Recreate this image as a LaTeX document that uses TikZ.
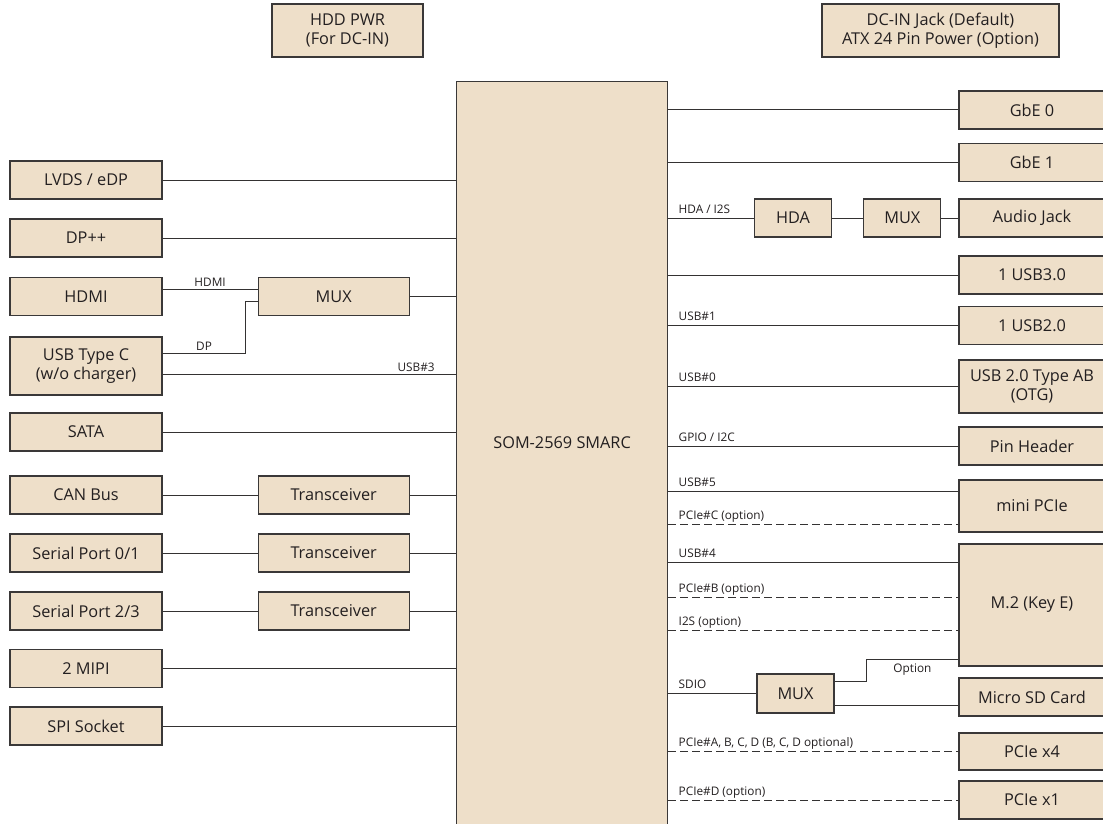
\documentclass[tikz,border=0pt]{standalone}
\usepackage{fontspec}
\setmainfont{Open Sans}
\usepackage{xcolor}
\definecolor{boxFill}{RGB}{238,223,201}
\definecolor{boxDraw}{RGB}{58,56,56}
\colorlet{colorLine}{boxDraw!90!black}
\definecolor{colorText}{RGB}{35,31,32}
\usetikzlibrary{positioning}
\tikzset{
  blk/.style={draw=boxDraw, line width=1.2pt, fill=boxFill, text=colorText, font=\fontsize{16.3}{18.5}\selectfont, align=center, inner sep=0pt, minimum height=38pt},
  lft/.style={blk, minimum width=152pt},
  rgt/.style={blk, minimum width=146pt},
  mid/.style={blk, minimum width=151pt},
  sml/.style={blk, minimum width=77pt},
  bus/.style={draw=colorLine, line width=1pt},
  opt/.style={bus, dash pattern=on 8pt off 4pt},
  lbl/.style={font=\fontsize{11.8}{13}\selectfont, text=colorText, inner sep=0pt},
  rlbl/.style={lbl, at start, anchor=base west, xshift=10pt, yshift=5pt},
}

\begin{document}
\begin{tikzpicture}[x=1pt, y=-1pt]
\useasboundingbox (0,0) rectangle (1103,824);
\fill[white] (0,0) rectangle (1103,824);
\node[blk, minimum width=211pt, minimum height=760pt, anchor=north west, label={[font=\fontsize{16.3}{18.5}\selectfont, text=colorText, yshift=19pt]center:SOM-2569 SMARC}] (som) at (456,81) {};
\node[mid, minimum height=53pt] (hddpwr) at (347.5,30.5) {HDD PWR\\(For DC-IN)};
\node[blk, minimum width=237pt, minimum height=53pt] (dcin) at (940.5,30.5) {DC-IN Jack (Default)\\ATX 24 Pin Power (Option)};
\node[lft] (lvds) at (86,180) {LVDS / eDP};
\node[lft] (dp) at (86,238) {DP++};
\node[lft] (hdmi) at (86,296.5) {HDMI};
\node[mid, right=95pt of hdmi] (mux1) {MUX};
\node[lft, minimum height=58pt] (usbc) at (86,366) {USB Type C\\(w/o charger)};
\node[lft] (sata) at (86,432) {SATA};
\node[lft] (can) at (86,495) {CAN Bus};
\node[mid, right=95pt of can] (trcan) {Transceiver};
\node[lft] (ser01) at (86,553) {Serial Port 0/1};
\node[mid, right=95pt of ser01] (trser01) {Transceiver};
\node[lft] (ser23) at (86,611) {Serial Port 2/3};
\node[mid, right=95pt of ser23] (trser23) {Transceiver};
\node[lft] (mipi) at (86,668.5) {2 MIPI};
\node[lft] (spi) at (86,726) {SPI Socket};
\node[rgt] (gbe0) at (1032,110) {GbE 0};
\node[rgt] (gbe1) at (1032,162.5) {GbE 1};
\node[rgt] (audio) at (1032,218) {Audio Jack};
\node[sml, left=17pt of audio] (mux2) {MUX};
\node[sml, left=31pt of mux2] (hda) {HDA};
\node[rgt] (usb3) at (1032,275) {1 USB3.0};
\node[rgt] (usb2) at (1032,325.5) {1 USB2.0};
\node[rgt, minimum height=53pt] (otg) at (1032,386.5) {USB 2.0 Type AB\\(OTG)};
\node[rgt] (pinh) at (1032,446) {Pin Header};
\node[rgt, minimum height=52pt] (minipcie) at (1032,506) {mini PCIe};
\node[rgt, minimum height=122pt] (m2) at (1032,605) {M.2 (Key E)};
\node[rgt] (sd) at (1032,697) {Micro SD Card};
\node[sml, minimum height=39pt] (sdmux) at (795.5,693.5) {MUX};
\node[rgt, minimum height=37pt] (pcie4) at (1032,751.5) {PCIe x4};
\node[rgt] (pcie1) at (1032,800) {PCIe x1};
\coordinate (hdmiy) at ([yshift=7.5pt]hdmi.east);
\coordinate (dpy) at ([yshift=13pt]usbc.east);
\coordinate (muxdp) at ([yshift=-4.5pt]mux1.west);
\coordinate (u3y) at ([yshift=-8pt]usbc.east);
\coordinate (u5y) at ([yshift=15pt]minipcie.west);
\coordinate (pcycy) at ([yshift=-18pt]minipcie.west);
\coordinate (u4y) at ([yshift=43pt]m2.west);
\coordinate (pcby) at ([yshift=8pt]m2.west);
\coordinate (i2sy) at ([yshift=-25pt]m2.west);
\coordinate (m2opt) at ([yshift=-54pt]m2.west);
\coordinate (sdmuxo) at ([yshift=12.5pt]sdmux.east);
\coordinate (sdin) at ([yshift=-8pt]sd.west);
\draw[bus] (lvds.east) -- (lvds.east -| som.west);
\draw[bus] (dp.east) -- (dp.east -| som.west);
\draw[bus] (hdmiy) -- (hdmiy -| mux1.west) node[lbl, midway, anchor=base, yshift=3pt]{HDMI};
\draw[bus] (dpy) -| node[lbl, pos=0.25, anchor=base, yshift=3pt]{DP} ([xshift=-12pt]muxdp) -- (muxdp);
\draw[bus] (mux1.east) -- (mux1.east -| som.west);
\draw[bus] (u3y) -- (u3y -| som.west) node[lbl, pos=0.864, anchor=base, yshift=3pt]{USB\#3};
\draw[bus] (sata.east) -- (sata.east -| som.west);
\draw[bus] (can) -- (trcan);
\draw[bus] (trcan.east) -- (trcan.east -| som.west);
\draw[bus] (ser01) -- (trser01);
\draw[bus] (trser01.east) -- (trser01.east -| som.west);
\draw[bus] (ser23) -- (trser23);
\draw[bus] (trser23.east) -- (trser23.east -| som.west);
\draw[bus] (mipi.east) -- (mipi.east -| som.west);
\draw[bus] (spi.east) -- (spi.east -| som.west);
\draw[bus] (gbe0.west -| som.east) -- (gbe0.west);
\draw[bus] (gbe1.west -| som.east) -- (gbe1.west);
\draw[bus] (hda.west -| som.east) -- (hda.west) node[rlbl]{HDA / I2S};
\draw[bus] (hda) -- (mux2);
\draw[bus] (mux2) -- (audio);
\draw[bus] (usb3.west -| som.east) -- (usb3.west);
\draw[bus] (usb2.west -| som.east) -- (usb2.west) node[rlbl]{USB\#1};
\draw[bus] (otg.west -| som.east) -- (otg.west) node[rlbl]{USB\#0};
\draw[bus] (pinh.west -| som.east) -- (pinh.west) node[rlbl]{GPIO / I2C};
\draw[bus] (u5y -| som.east) -- (u5y) node[rlbl]{USB\#5};
\draw[opt] (pcycy -| som.east) -- (pcycy) node[rlbl]{PCIe\#C (option)};
\draw[bus] (u4y -| som.east) -- (u4y) node[rlbl]{USB\#4};
\draw[opt] (pcby -| som.east) -- (pcby) node[rlbl]{PCIe\#B (option)};
\draw[opt] (i2sy -| som.east) -- (i2sy) node[rlbl]{I2S (option)};
\draw[bus] (sdmux.west -| som.east) -- (sdmux.west) node[rlbl]{SDIO};
\draw[bus] (sdmuxo) -| ([xshift=-92pt]m2opt) -- node[lbl, midway, below=4pt]{Option} (m2opt);
\draw[bus] (sdin -| sdmux.east) -- (sdin);
\draw[opt] (pcie4.west -| som.east) -- (pcie4.west) node[rlbl]{PCIe\#A, B, C, D (B, C, D optional)};
\draw[opt] (pcie1.west -| som.east) -- (pcie1.west) node[rlbl]{PCIe\#D (option)};
\end{tikzpicture}
\end{document}
